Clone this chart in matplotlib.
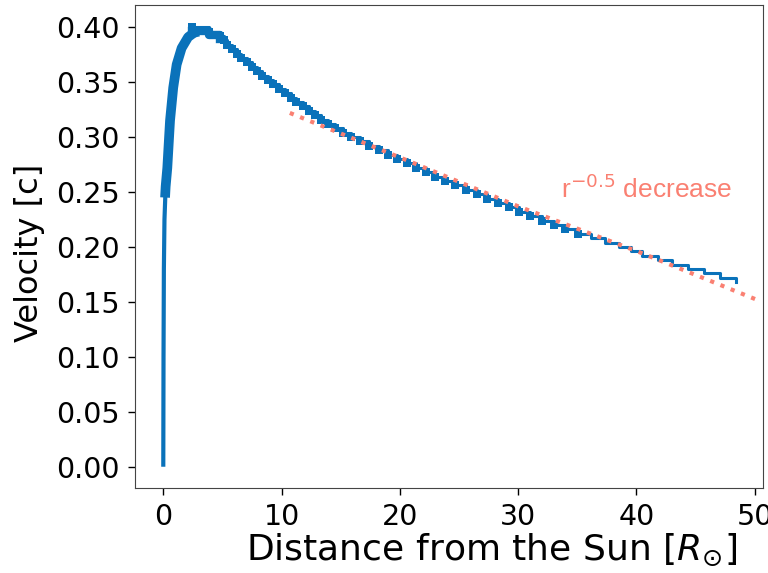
import matplotlib
matplotlib.use('Agg')
import matplotlib.pyplot as plt
import numpy as np

# velocity profile
# steep rise near the Sun (lower thin part, upper noisy band)
low_x = [0.0, 0.02, 0.05, 0.10, 0.20]
low_v = [0.0, 0.100, 0.180, 0.225, 0.255]
rise_x = [0.15, 0.20, 0.34, 0.57, 0.84, 1.13, 1.55, 2.10, 2.60, 3.00]
rise_v = [0.245, 0.255, 0.272, 0.315, 0.345, 0.366, 0.381, 0.391, 0.395, 0.396]

# quantised velocity steps: x where each level starts, and the level
step_x = [2.40, 3.90, 4.80, 5.10, 5.35, 5.77, 6.19, 6.61, 7.04, 7.47,
          7.90, 8.37, 8.83, 9.30, 9.79, 10.27, 10.76, 11.26, 11.77, 12.28,
          12.80, 13.36, 13.93, 14.52, 15.22, 15.91, 16.60, 17.42, 18.20, 19.00,
          19.80, 20.60, 21.40, 22.20, 23.00, 23.80, 24.70, 25.60, 26.50, 27.40,
          28.30, 29.20, 30.10, 31.00, 32.00, 33.00, 34.00, 35.10, 36.20, 37.30,
          38.50, 39.50, 40.50, 41.80, 43.00, 44.40, 45.70, 47.10, 48.40]
step_v = [0.400, 0.396, 0.392, 0.388, 0.384, 0.380, 0.376, 0.372, 0.368, 0.364,
          0.360, 0.356, 0.352, 0.348, 0.344, 0.340, 0.336, 0.332, 0.328, 0.324,
          0.320, 0.316, 0.312, 0.308, 0.304, 0.300, 0.296, 0.292, 0.288, 0.284,
          0.280, 0.276, 0.272, 0.268, 0.264, 0.260, 0.256, 0.252, 0.248, 0.244,
          0.240, 0.236, 0.232, 0.228, 0.224, 0.220, 0.216, 0.212, 0.208, 0.204,
          0.200, 0.196, 0.192, 0.188, 0.184, 0.180, 0.176, 0.172, 0.168]

# r^-0.5 guide line
guide_x = [10.7, 20.8, 30.0, 40.2, 50.4]
guide_v = [0.322, 0.278, 0.237, 0.1955, 0.151]

blue = '#0a72ba'
salmon = '#fa8072'

fig = plt.figure(figsize=(7.68, 5.73), dpi=100)
ax = fig.add_axes([0.1758, 0.149, 0.8177, 0.843])

ax.plot(low_x, low_v, color=blue, lw=3, solid_capstyle='butt')
ax.plot(rise_x, rise_v, color=blue, lw=7, solid_capstyle='butt', solid_joinstyle='round')
ax.plot(step_x, step_v, color=blue, lw=2.2, drawstyle='steps-post')
sx = np.array(step_x)
sv = np.array(step_v)
dense = sx < 36
ax.plot(sx[dense], sv[dense], 's', color=blue, ms=5.5, mew=0)
# thick band around the peak
peak = sx < 5
ax.plot(sx[peak], sv[peak] - 0.003, color=blue, lw=6, drawstyle='steps-post')

ax.plot(guide_x, guide_v, ':', color=salmon, lw=3)
ax.text(33.6, 0.245, r'r$^{-0.5}$ decrease', color=salmon, fontsize=19,
        family=['Liberation Sans', 'DejaVu Sans'])

ax.set_xlim(-2.39, 50.7)
ax.set_ylim(-0.019, 0.4206)
ax.set_yticks(np.arange(0, 0.41, 0.05))
ax.set_xticks([0, 10, 20, 30, 40, 50])

ax.tick_params(labelsize=20.5, length=5, width=1, pad=6)
ax.set_xlabel(r'Distance from the Sun [$R_{\odot}$]', fontsize=26)
ax.set_ylabel('Velocity [c]', fontsize=23)
ax.xaxis.set_label_coords(0.568, -0.092)
ax.yaxis.set_label_coords(-0.143, 0.485)
for s in ax.spines.values():
    s.set_color('#444444')

fig.savefig('out.png', dpi=100)
